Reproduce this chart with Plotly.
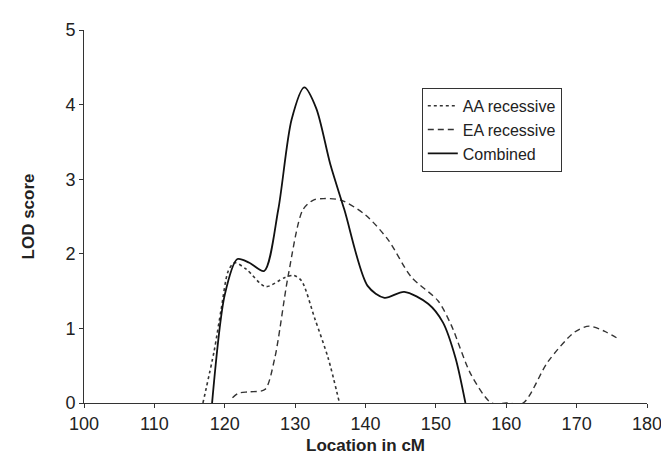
import plotly.graph_objects as go

aa_x = [116.9, 118.5, 119.5, 120.5, 121.4, 123.1, 125.8, 128.5, 129.8, 130.9, 132.8, 134.7, 136.3]
aa_y = [0.0, 0.7, 1.26, 1.77, 1.88, 1.79, 1.56, 1.68, 1.71, 1.64, 1.13, 0.60, 0.0]

ea_x = [121.1, 121.9, 123.5, 125.7, 127.1, 129.0, 131.1, 132.6, 134.0, 136.5, 140.0, 143.2, 146.5, 150.3, 152.2, 155.0, 157.9,
        160.0, 162.4, 165.9, 169.7, 171.8, 174.0, 176.1]
ea_y = [0.07, 0.13, 0.15, 0.18, 0.60, 1.70, 2.59, 2.72, 2.74, 2.72, 2.52, 2.19, 1.69, 1.37, 1.04, 0.38, 0.0,
        0.0, 0.0, 0.55, 0.95, 1.03, 0.96, 0.85]

comb_x = [118.2, 120.0, 121.8, 123.5, 125.6, 127.6, 129.5, 131.3, 133.0, 135.0, 137.0, 140.3, 142.7, 145.5, 148.9, 151.0, 152.8, 154.2]
comb_y = [0.0, 1.45, 1.93, 1.88, 1.77, 2.59, 3.80, 4.23, 3.95, 3.20, 2.59, 1.57, 1.41, 1.49, 1.33, 1.08, 0.60, 0.0]

x_ticks = [100, 110, 120, 130, 140, 150, 160, 170, 180]
y_ticks = [0, 1, 2, 3, 4, 5]

fig = go.Figure()
fig.add_trace(go.Scatter(x=aa_x, y=aa_y, mode="lines", name="AA recessive",
                         line=dict(color="#333333", width=1.6, dash="dot", shape="spline", smoothing=0.8)))
fig.add_trace(go.Scatter(x=ea_x, y=ea_y, mode="lines", name="EA recessive",
                         line=dict(color="#333333", width=1.4, dash="6px,4px", shape="spline", smoothing=0.8)))
fig.add_trace(go.Scatter(x=comb_x, y=comb_y, mode="lines", name="Combined",
                         line=dict(color="#111111", width=1.8, shape="spline", smoothing=0.8)))

font = "Liberation Sans, Arial, sans-serif"
fig.update_layout(
    width=669, height=462,
    margin=dict(l=76, r=30, t=19, b=67),
    paper_bgcolor="white", plot_bgcolor="white",
    font=dict(family=font, size=18, color="#222222"),
    showlegend=True,
    legend=dict(x=0.6, y=0.845, xanchor="left", yanchor="top",
                bordercolor="#333333", borderwidth=1, bgcolor="white",
                font=dict(size=16, color="#222222"), tracegroupgap=0,
                itemwidth=30),
    xaxis=dict(range=[100, 180], tickvals=x_ticks, ticks="outside", ticklen=4,
               tickcolor="#333333", showline=True, linecolor="#333333", linewidth=1,
               showgrid=False, zeroline=False, tickfont=dict(size=18),
               title=dict(text="<b>Location in cM</b>", font=dict(size=17), standoff=6)),
    yaxis=dict(range=[0, 5], tickvals=y_ticks, ticks="outside", ticklen=4,
               tickcolor="#333333", showline=True, linecolor="#333333", linewidth=1,
               showgrid=False, zeroline=False, tickfont=dict(size=18),
               title=dict(text="<b>LOD score</b>", font=dict(size=17), standoff=26)),
)

fig.write_html("out.html")
